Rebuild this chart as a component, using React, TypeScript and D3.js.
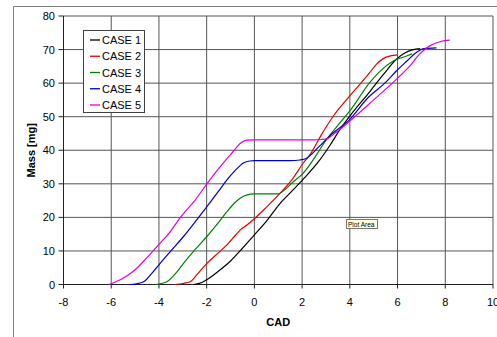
import React from "react";
import * as d3 from "d3";

// Injected fuel mass vs crank angle for five injection cases
const caseNames = ["CASE 1", "CASE 2", "CASE 3", "CASE 4", "CASE 5"];
const caseColors = ["#000000", "#e00000", "#008000", "#0000c0", "#e000e0"];

const case1Cad = [-2.55, -2.2, -2.0, -1.5, -1.0, -0.5, 0, 0.5, 1.08, 1.5, 2.05, 2.75, 3.17, 3.59, 4.0, 4.84, 5.4, 5.96, 6.3, 6.65, 6.95];
const case1Mass = [0, 0.6, 1.4, 4.0, 7.0, 10.8, 14.8, 18.8, 24.2, 27.3, 31.4, 37.2, 41.5, 46.2, 50.2, 57.5, 62.5, 67.2, 69.0, 70.0, 70.3];

const case2Cad = [-3.32, -3.0, -2.69, -2.4, -1.99, -1.5, -1.15, -0.8, -0.6, -0.3, 0, 0.5, 1.08, 1.6, 2.05, 2.33, 2.8, 3.31, 4.0, 4.5, 4.84, 5.1, 5.4, 5.7, 6.0];
const case2Mass = [0, 0.3, 0.8, 3.0, 6.3, 9.5, 11.8, 14.6, 16.2, 17.8, 19.6, 23.0, 27.2, 31.5, 36.2, 38.7, 44.5, 50.2, 56.2, 60.3, 63.2, 65.5, 67.3, 68.1, 68.4];

const case3Cad = [-4.15, -3.9, -3.67, -3.3, -2.97, -2.5, -1.99, -1.5, -1.15, -0.8, -0.6, -0.3, 0, 1.0, 1.3, 1.6, 2.05, 2.61, 3.0, 3.59, 4.0, 4.84, 5.26, 5.82, 6.38, 6.6];
const case3Mass = [0, 0.3, 0.8, 3.3, 6.3, 10.3, 14.3, 18.5, 21.7, 24.5, 25.7, 26.7, 27.0, 27.0, 28.4, 30.4, 33.2, 38.7, 43.0, 48.2, 51.7, 60.2, 63.5, 66.6, 68.1, 68.7];

const case4Cad = [-5.27, -4.95, -4.64, -4.3, -3.95, -3.5, -2.97, -2.5, -1.99, -1.5, -1.15, -0.8, -0.46, -0.2, 0, 1.5, 1.91, 2.19, 2.33, 2.7, 3.31, 4.0, 4.7, 5.54, 5.96, 6.38, 6.8, 7.1, 7.63];
const case4Mass = [0, 0.2, 0.8, 3.3, 6.3, 10.0, 14.3, 18.5, 23.2, 27.8, 31.2, 34.0, 36.2, 36.8, 36.9, 36.9, 37.1, 37.6, 38.4, 41.0, 45.2, 49.2, 55.2, 60.5, 63.7, 66.5, 69.2, 70.3, 70.5];

const case5Cad = [-6.1, -5.8, -5.4, -5.06, -4.5, -3.95, -3.5, -3.1, -2.5, -1.99, -1.5, -0.88, -0.6, -0.32, 0, 2.5, 2.8, 3.03, 3.4, 4.0, 5.0, 5.96, 6.5, 6.93, 7.35, 7.8, 8.19];
const case5Mass = [0, 0.8, 2.3, 4.0, 8.0, 12.3, 16.0, 20.0, 25.0, 30.0, 34.5, 39.7, 42.0, 43.0, 43.1, 43.1, 43.2, 43.4, 45.2, 48.7, 55.0, 61.2, 65.0, 68.7, 71.1, 72.4, 72.8];

const caseCad = [case1Cad, case2Cad, case3Cad, case4Cad, case5Cad];
const caseMass = [case1Mass, case2Mass, case3Mass, case4Mass, case5Mass];

const xTicks = [-8, -6, -4, -2, 0, 2, 4, 6, 8, 10];
const yTicks = [0, 10, 20, 30, 40, 50, 60, 70, 80];

const W = 497;
const H = 337;
const FONT = "Arial, 'Liberation Sans', sans-serif";

export default function App() {
  const x = d3.scaleLinear().domain([-8, 10]).range([63.5, 493]);
  const y = d3.scaleLinear().domain([0, 80]).range([284.5, 16]);

  const line = d3
    .line<[number, number]>()
    .x((d) => x(d[0]))
    .y((d) => y(d[1]))
    .curve(d3.curveMonotoneX);

  const series = caseNames.map((name, i) => ({
    name,
    color: caseColors[i],
    points: caseCad[i].map((c, j) => [c, caseMass[i][j]] as [number, number]),
  }));

  const legendX = 83.5;
  const legendY = 30.5;
  const legendRow = 16.25;

  return (
    <svg
      width={W}
      height={H}
      style={{ position: "absolute", left: 0, top: 0, background: "#fff" }}
      fontFamily={FONT}
    >
      {/* chart area frame */}
      <line x1={13.5} y1={6.5} x2={W} y2={6.5} stroke="#808080" />
      <line x1={13.5} y1={6.5} x2={13.5} y2={H} stroke="#808080" />

      {/* gridlines */}
      {xTicks.map((t) => (
        <line key={"gx" + t} x1={x(t)} x2={x(t)} y1={y(80)} y2={y(0)} stroke="#555" strokeWidth={1} />
      ))}
      {yTicks.map((t) => (
        <line key={"gy" + t} x1={x(-8)} x2={x(10)} y1={y(t)} y2={y(t)} stroke="#555" strokeWidth={1} />
      ))}

      {/* axes and ticks */}
      <line x1={x(-8)} x2={x(-8)} y1={y(80)} y2={y(0)} stroke="#222" />
      <line x1={x(-8)} x2={x(10)} y1={y(0)} y2={y(0)} stroke="#222" />
      {yTicks.map((t) => (
        <g key={"ty" + t}>
          <line x1={x(-8) - 5} x2={x(-8)} y1={y(t)} y2={y(t)} stroke="#222" />
          <text x={55} y={y(t) + 4} fontSize={11} textAnchor="end" fill="#000">
            {t}
          </text>
        </g>
      ))}
      {xTicks.map((t) => (
        <g key={"tx" + t}>
          <line x1={x(t)} x2={x(t)} y1={y(0)} y2={y(0) + 4} stroke="#222" />
          <text x={x(t)} y={306} fontSize={11} textAnchor="middle" fill="#000">
            {t}
          </text>
        </g>
      ))}

      {/* axis titles */}
      <text x={(x(-8) + x(10)) / 2} y={326} fontSize={11} fontWeight="bold" textAnchor="middle">
        CAD
      </text>
      <text
        transform={`translate(35,${(y(0) + y(80)) / 2}) rotate(-90)`}
        fontSize={11}
        fontWeight="bold"
        textAnchor="middle"
      >
        Mass [mg]
      </text>

      {/* series */}
      {series.map((s) => (
        <path key={s.name} d={line(s.points) || ""} fill="none" stroke={s.color} strokeWidth={1.2} />
      ))}

      {/* legend */}
      <rect x={legendX} y={legendY} width={61} height={82} fill="#fff" stroke="#404040" />
      {series.map((s, i) => {
        const cy = 40 + i * legendRow;
        return (
          <g key={"lg" + s.name}>
            <line x1={90} x2={100} y1={cy} y2={cy} stroke={s.color} strokeWidth={1.3} />
            <text x={102} y={cy + 4} fontSize={11} fill="#000">
              {s.name}
            </text>
          </g>
        );
      })}

      {/* hover hint */}
      <rect x={346.5} y={219.5} width={31} height={9} fill="#ffffe1" stroke="#777" />
      <text x={348} y={226.5} fontSize={6.5} fill="#000">
        Plot Area
      </text>
    </svg>
  );
}
